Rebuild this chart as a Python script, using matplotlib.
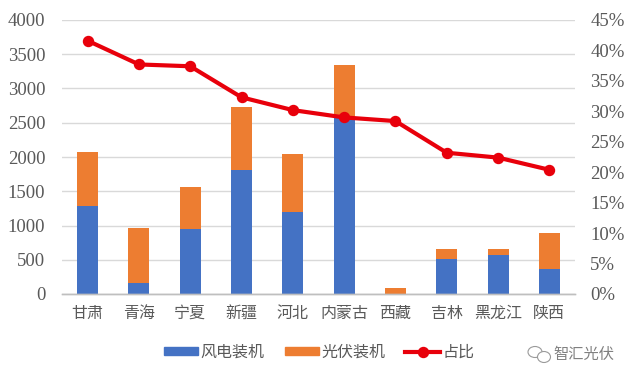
import matplotlib
matplotlib.use("Agg")
import numpy as np
from matplotlib import pyplot as plt
from matplotlib.lines import Line2D
from matplotlib.patches import Ellipse, Patch

plt.rcParams['font.family'] = ['Noto Sans CJK SC', 'DejaVu Sans']

provinces = ['甘肃', '青海', '宁夏', '新疆', '河北', '内蒙古', '西藏', '吉林', '黑龙江', '陕西']
wind = [1290, 165, 950, 1810, 1190, 2590, 5, 510, 570, 365]
solar = [790, 795, 610, 925, 860, 760, 80, 150, 90, 525]
share = [41.6, 37.7, 37.4, 32.3, 30.2, 29.0, 28.4, 23.2, 22.4, 20.4]

left_ticks = [0, 500, 1000, 1500, 2000, 2500, 3000, 3500, 4000]
right_ticks = [0, 5, 10, 15, 20, 25, 30, 35, 40, 45]

BLUE = '#4472c4'
ORANGE = '#ed7d31'
RED = '#e8000b'
TXT = '#595959'
NUM_FONT = 'Liberation Serif'

W, H = 631, 369
fig = plt.figure(figsize=(W / 100, H / 100), dpi=100)
ax = fig.add_axes([62 / W, 1 - 294 / H, (575 - 62) / W, (294 - 20) / H])
ax2 = ax.twinx()

x = np.arange(len(provinces))
ax.set_axisbelow(True)
ax.grid(axis='y', color='#d9d9d9', lw=1.0)
ax.bar(x, wind, width=0.41, color=BLUE)
ax.bar(x, solar, width=0.41, bottom=wind, color=ORANGE)
ax2.plot(x, share, color=RED, lw=3.0, marker='o', ms=7.2)

ax.set_xlim(-0.5, 9.5)
ax.set_ylim(0, 4000)
ax2.set_ylim(0, 45)
ax.set_xticks(x)
ax.set_xticklabels(provinces, fontsize=11.5, color=TXT)
ax.set_yticks(left_ticks)
ax.set_yticklabels([str(v) for v in left_ticks], fontsize=13.5, color=TXT, family=NUM_FONT)
ax2.set_yticks(right_ticks)
ax2.set_yticklabels([f'{v}%' for v in right_ticks], fontsize=13.5, color=TXT, family=NUM_FONT)

ax.tick_params(axis='both', length=0)
ax.tick_params(axis='x', pad=8)
ax.tick_params(axis='y', pad=12)
ax2.tick_params(axis='y', length=0, pad=11)

for a in (ax, ax2):
    for side in ('top', 'left', 'right'):
        a.spines[side].set_visible(False)
    a.spines['bottom'].set_color('#bfbfbf')
    a.spines['bottom'].set_linewidth(1.0)

handles = [Patch(color=BLUE), Patch(color=ORANGE),
           Line2D([], [], color=RED, lw=3.0, marker='o', ms=7.2)]
fig.legend(handles, ['风电装机', '光伏装机', '占比'], loc='center left',
           bbox_to_anchor=(164 / W, 1 - 352 / H), ncol=3, frameon=False,
           fontsize=11.5, labelcolor=TXT, handlelength=2.15, handleheight=0.45,
           columnspacing=1.25, handletextpad=0.15, borderpad=0, borderaxespad=0)

# watermark: bubble icon and account name
for cx, cy, w, h in [(535, 352, 14, 11), (544, 357, 13, 11)]:
    fig.add_artist(Ellipse((cx / W, 1 - cy / H), w / W, h / H, transform=fig.transFigure,
                           fc='white', ec='#9a9a9a', lw=0.8))
fig.text(584 / W, 1 - 354 / H, '智汇光伏', fontsize=11, color='#808080', ha='center', va='center')

fig.savefig('out.png', dpi=100)
